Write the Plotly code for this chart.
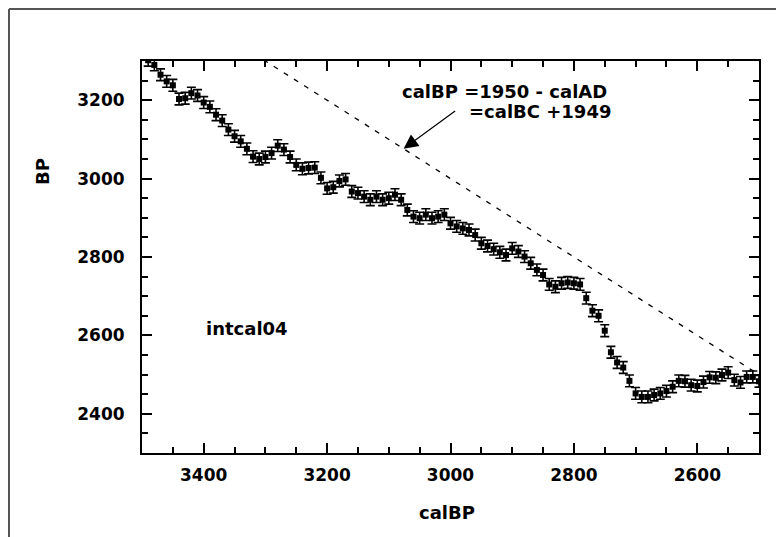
import plotly.graph_objects as go

# ---- data ----
cal_bp = [3490, 3480, 3470, 3460, 3450, 3440, 3430, 3420, 3410, 3400,
          3390, 3380, 3370, 3360, 3350, 3340, 3330, 3320, 3310, 3300,
          3290, 3280, 3270, 3260, 3250, 3240, 3230, 3220, 3210, 3200,
          3190, 3180, 3170, 3160, 3150, 3140, 3130, 3120, 3110, 3100,
          3090, 3080, 3070, 3060, 3050, 3040, 3030, 3020, 3010, 3000,
          2990, 2980, 2970, 2960, 2950, 2940, 2930, 2920, 2910, 2900,
          2890, 2880, 2870, 2860, 2850, 2840, 2830, 2820, 2810, 2800,
          2790, 2780, 2770, 2760, 2750, 2740, 2730, 2720, 2710, 2700,
          2690, 2680, 2670, 2660, 2650, 2640, 2630, 2620, 2610, 2600,
          2590, 2580, 2570, 2560, 2550, 2540, 2530, 2520, 2510, 2500]
bp = [3302, 3290, 3265, 3248, 3238, 3203, 3205, 3218, 3212, 3194,
      3183, 3163, 3148, 3125, 3108, 3095, 3076, 3056, 3050, 3055,
      3065, 3084, 3074, 3055, 3035, 3025, 3027, 3028, 3002, 2975,
      2978, 2994, 2998, 2967, 2963, 2954, 2946, 2954, 2946, 2950,
      2959, 2946, 2920, 2903, 2899, 2908, 2899, 2903, 2908, 2886,
      2878, 2873, 2869, 2856, 2835, 2828, 2820, 2812, 2805, 2822,
      2814, 2801, 2784, 2767, 2754, 2730, 2724, 2733, 2735, 2733,
      2730, 2695, 2663, 2650, 2612, 2557, 2531, 2518, 2484, 2452,
      2443, 2443, 2448, 2452, 2458, 2469, 2484, 2483, 2473, 2471,
      2481, 2493, 2492, 2499, 2505, 2486, 2480, 2494, 2494, 2483]
bp_err = [15] * len(cal_bp)

# identity line calBP = BP
eq_cal = [3500, 2500]
eq_bp = [3500, 2500]

x_ticks = [3400, 3200, 3000, 2800, 2600]
y_ticks = [2400, 2600, 2800, 3000, 3200]

# ---- layout geometry (figure sits 8px into the page) ----
W, H = 776, 529
L, R, T, B = 134, 25, 53, 84
PW, PH = W - L - R, H - T - B
OFF = 8


def px(x):  # page pixel -> paper
    return (x - OFF - L) / PW


def py(y):
    return (H - B - (y - OFF)) / PH


FONT = "DejaVu Sans, Verdana, sans-serif"

fig = go.Figure()
fig.add_trace(go.Scatter(
    x=eq_cal, y=eq_bp, mode="lines",
    line=dict(color="black", width=1.3, dash="5px,7px"),
    hoverinfo="skip", showlegend=False))
fig.add_trace(go.Scatter(
    x=cal_bp, y=bp, mode="markers",
    marker=dict(symbol="square", size=6, color="black"),
    error_y=dict(type="data", array=bp_err, color="black", thickness=1.6, width=4.5),
    showlegend=False))

axis_common = dict(
    showline=True, linecolor="black", linewidth=2, mirror="allticks",
    ticks="inside", ticklen=10, tickwidth=1.5, tickcolor="black",
    showgrid=False, zeroline=False,
    tickfont=dict(family=FONT, size=17, color="black", weight="bold"),
    minor=dict(ticks="inside", ticklen=6, tickwidth=1.5, tickcolor="black", dtick=50, showgrid=False),
)

fig.update_xaxes(range=[3500, 2500], tickvals=x_ticks, ticklabelstandoff=6, **axis_common)
fig.update_yaxes(range=[2300, 3300], tickvals=y_ticks, ticklabelstandoff=12, **axis_common)

tf = dict(family=FONT, size=18, color="black", weight="bold")
ann = [
    dict(text="BP", x=px(42), y=py(172), xref="paper", yref="paper", textangle=-90,
         showarrow=False, font=tf, xanchor="center", yanchor="middle"),
    dict(text="calBP", x=px(447), y=py(512), xref="paper", yref="paper",
         showarrow=False, font=tf, xanchor="center", yanchor="middle"),
    dict(text="intcal04", x=px(204), y=py(328), xref="paper", yref="paper",
         showarrow=False, font=tf, xanchor="left", yanchor="middle"),
    dict(text="calBP =1950 - calAD", x=px(400), y=py(91), xref="paper", yref="paper",
         showarrow=False, font=tf, xanchor="left", yanchor="middle"),
    dict(text="=calBC +1949", x=px(467), y=py(112), xref="paper", yref="paper",
         showarrow=False, font=tf, xanchor="left", yanchor="middle"),
    dict(text="", x=3076, y=3076, xref="x", yref="y", showarrow=True,
         ax=53, ay=-39, arrowhead=2, arrowsize=2.4, arrowwidth=1.2, arrowcolor="black"),
]

frame = dict(color="#555555", width=2)
shapes = [
    dict(type="line", xref="paper", yref="paper", x0=px(9), x1=px(9), y0=py(9), y1=py(545), line=frame),
    dict(type="line", xref="paper", yref="paper", x0=px(9), x1=px(777), y0=py(9), y1=py(9), line=frame),
    dict(type="line", xref="paper", yref="paper", x0=px(777), x1=px(777), y0=py(9), y1=py(545), line=frame),
]

fig.update_layout(
    width=W, height=H, margin=dict(l=L, r=R, t=T, b=B),
    paper_bgcolor="white", plot_bgcolor="white",
    annotations=ann, shapes=shapes, showlegend=False,
)

fig.write_html("out.html")
